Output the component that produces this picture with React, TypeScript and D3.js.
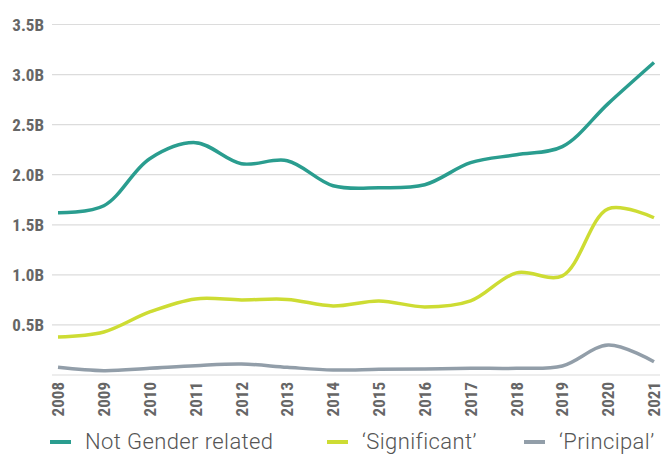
import React, { useEffect, useRef } from "react";
import * as d3 from "d3";

const years = [2008, 2009, 2010, 2011, 2012, 2013, 2014, 2015, 2016, 2017, 2018, 2019, 2020, 2021];
// values in billions
const notGender = [1.62, 1.69, 2.16, 2.32, 2.11, 2.14, 1.89, 1.87, 1.9, 2.12, 2.2, 2.28, 2.71, 3.12];
const significant = [0.38, 0.43, 0.63, 0.76, 0.75, 0.755, 0.69, 0.74, 0.68, 0.74, 1.02, 0.99, 1.66, 1.57];
const principal = [0.077, 0.043, 0.067, 0.093, 0.11, 0.077, 0.05, 0.057, 0.06, 0.067, 0.067, 0.09, 0.3, 0.133];
const yTicks = [0, 0.5, 1, 1.5, 2, 2.5, 3, 3.5];

const series = [
  { name: "Not Gender related", values: notGender, color: "#2a9d8f" },
  { name: "\u2018Significant\u2019", values: significant, color: "#cddc33" },
  { name: "\u2018Principal\u2019", values: principal, color: "#929ea9" },
];

const W = 664;
const H = 454;
const narrow = "'Liberation Sans Narrow', 'Roboto Condensed', Roboto, sans-serif";

const App: React.FC = () => {
  const svgRef = useRef<SVGSVGElement | null>(null);

  useEffect(() => {
    const svg = d3.select(svgRef.current);
    svg.selectAll("*").remove();

    const x = d3.scaleLinear().domain([2008, 2021]).range([58, 654]);
    const y = d3.scaleLinear().domain([0, 3.5]).range([375, 24.5]);

    // grid
    svg
      .append("g")
      .selectAll("line")
      .data(yTicks)
      .join("line")
      .attr("x1", 52)
      .attr("x2", 660)
      .attr("y1", (d) => y(d))
      .attr("y2", (d) => y(d))
      .attr("stroke", "#dcdcdc")
      .attr("stroke-width", 1.2);

    svg
      .append("g")
      .selectAll("text")
      .data(yTicks.filter((d) => d > 0))
      .join("text")
      .attr("x", 44)
      .attr("y", (d) => y(d))
      .attr("dy", "0.36em")
      .attr("text-anchor", "end")
      .style("font-family", narrow)
      .style("font-size", "17px")
      .style("font-weight", 700)
      .attr("fill", "#666")
      .text((d) => d.toFixed(1) + "B");

    // x labels
    svg
      .append("g")
      .selectAll("text")
      .data(years)
      .join("text")
      .attr("transform", (d) => `translate(${x(d)}, 382) rotate(-90)`)
      .attr("dy", "0.36em")
      .attr("text-anchor", "end")
      .style("font-family", narrow)
      .style("font-size", "17px")
      .style("font-weight", 700)
      .attr("fill", "#666")
      .text((d) => String(d));

    const line = d3
      .line<number>()
      .x((_, i) => x(years[i]))
      .y((d) => y(d))
      .curve(d3.curveCatmullRom.alpha(0.5));

    series
      .slice()
      .reverse()
      .forEach((s) => {
        svg
          .append("path")
          .attr("d", line(s.values) as string)
          .attr("fill", "none")
          .attr("stroke", s.color)
          .attr("stroke-width", 3.5);
      });

    // legend
    const legendX = [50, 327, 524];
    const legend = svg
      .append("g")
      .selectAll("g")
      .data(series)
      .join("g")
      .attr("transform", (_, i) => `translate(${legendX[i]}, 442)`);
    legend
      .append("line")
      .attr("x1", 0)
      .attr("x2", 21)
      .attr("stroke", (d) => d.color)
      .attr("stroke-width", 4);
    legend
      .append("text")
      .attr("x", 35)
      .attr("y", 7)
      .style("font-family", "Roboto, sans-serif")
      .style("font-size", "22px")
      .style("font-weight", 300)
      .style("letter-spacing", "0.4px")
      .attr("fill", "#555")
      .text((d) => d.name);
  }, []);

  return (
    <div style={{ position: "fixed", left: 0, top: 0, background: "#fff" }}>
      <svg ref={svgRef} width={W} height={H} style={{ display: "block" }} />
    </div>
  );
};

export default App;
